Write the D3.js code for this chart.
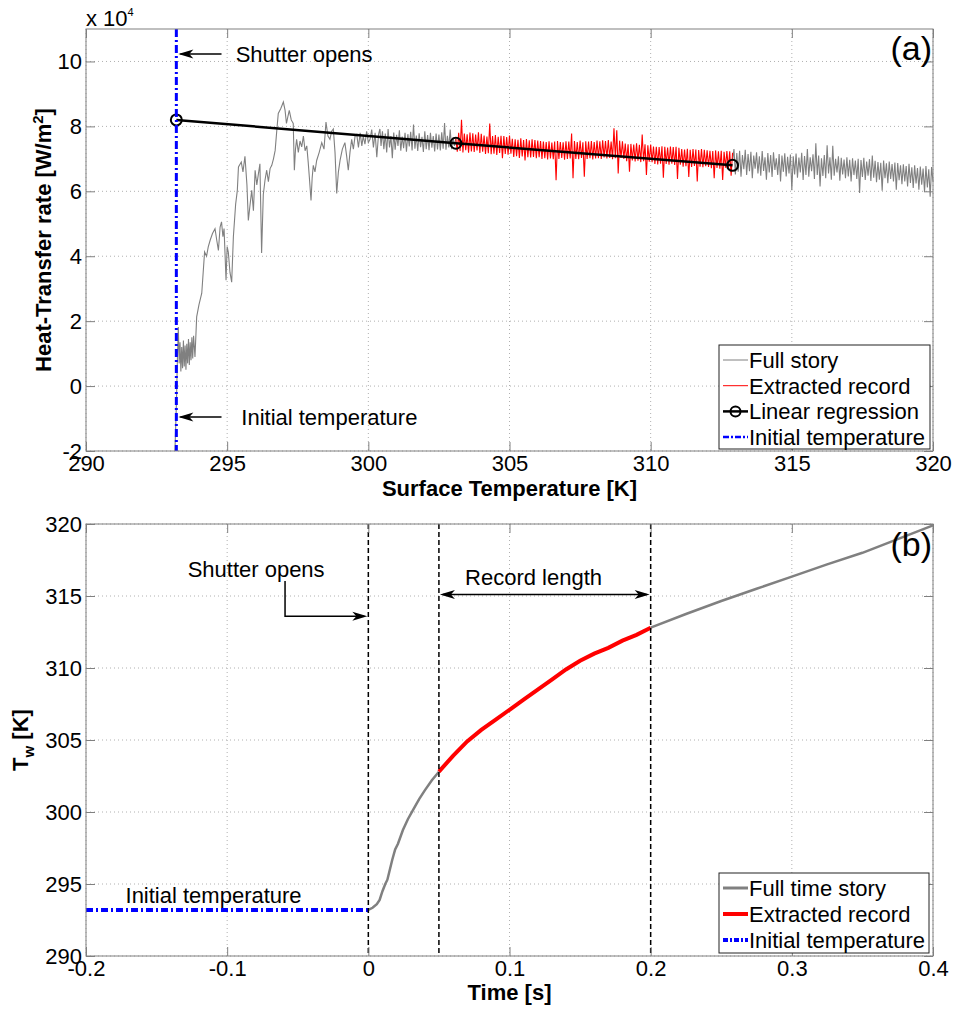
<!DOCTYPE html>
<html>
<head>
<meta charset="utf-8">
<script src="https://cdn.jsdelivr.net/npm/d3@7"></script>
<style>
body { margin: 0; background: #fff; }
text { font-family: "Liberation Sans", Arial, Helvetica, sans-serif; }
</style>
</head>
<body>
<div id="chart"></div>
<script>

// ---------- (a) heat-transfer rate vs surface temperature (values x 10^4 W/m2) ----------
let fullEarly = [[293.15,-2.0],[293.20,-0.6],[293.24,0.9],[293.27,1.82],[293.30,0.7],[293.33,1.35],[293.36,0.45],[293.39,1.2],
	[293.42,0.55],[293.45,1.4],[293.48,0.6],[293.51,1.25],[293.54,0.5],[293.57,1.3],[293.60,0.7],[293.63,1.45],[293.66,0.65],
	[293.69,1.35],[293.72,0.8],[293.75,1.5],[293.78,0.85],[293.81,1.55],[293.86,0.9],[293.92,2.13],[294.00,2.5],[294.10,2.86],
	[294.20,4.13],[294.27,4.0],[294.33,4.29],[294.40,4.5],[294.48,4.7],[294.57,4.85],[294.63,4.5],[294.69,4.18],[294.75,4.9],
	[294.80,5.06],[294.85,4.6],[294.89,4.85],[294.96,3.26],[295.00,4.3],[295.04,4.13],[295.10,3.5],[295.16,3.2],[295.22,4.6],
	[295.30,5.6],[295.36,6.03],[295.40,6.75],[295.50,6.9],[295.56,6.6],[295.63,7.08],[295.70,6.2],[295.75,5.1],[295.80,5.5],
	[295.87,6.03],[295.93,5.4],[295.99,6.65],[296.05,6.2],[296.10,6.5],[296.16,6.85],[296.22,4.1],[296.28,5.9],[296.34,6.34],
	[296.40,6.65],[296.46,6.3],[296.52,6.7],[296.58,6.8],[296.64,7.0],[296.70,7.26],[296.76,7.9],[296.81,8.4],[296.90,8.55],
	[296.99,8.75],[297.05,8.5],[297.10,8.09],[297.15,8.3],[297.20,8.49],[297.27,8.2],[297.34,8.09],[297.38,6.65],[297.42,7.3],
	[297.46,7.6],[297.52,7.2],[297.58,7.55],[297.64,7.37],[297.70,7.7],[297.76,7.25],[297.82,7.4],[297.87,6.9],[297.91,6.44],
	[297.97,5.72],[298.01,6.4],[298.05,6.8],[298.11,6.6],[298.17,6.95],[298.26,7.2],[298.35,7.5],[298.43,7.3],[298.50,8.13],
	[298.57,7.7],[298.64,7.6],[298.70,7.85],[298.76,7.92],[298.82,7.2],[298.88,5.93],[298.94,6.6],[299.00,6.96],[299.08,7.3],
	[299.17,7.5],[299.23,7.1],[299.29,6.65],[299.35,7.2],[299.41,7.6],[299.47,7.3],[299.53,7.7],[299.59,7.75],[299.65,7.35],
	[299.71,7.8],[299.77,7.4],[299.82,7.7],[299.88,7.45],[299.94,7.85],[300.00,7.5],[300.06,7.6],[300.12,7.9],[300.18,7.35],
	[300.24,7.8],[300.30,7.05],[300.36,7.75],[300.41,7.92],[300.45,7.4]];

// sampled every 0.05 K
let midStart = 300.5;
let fullMid = [7.85,7.30,7.78,7.20,7.92,7.35,7.70,7.02,7.81,7.28,7.74,7.40,7.88,7.25,7.69,7.33,7.80,7.22,7.76,7.38,
	7.83,7.26,8.06,7.31,7.72,7.24,7.79,7.36,7.68,7.21,7.85,7.30,7.73,7.27,7.80,7.34,7.70,7.23,7.78,7.29,
	7.75,7.26,7.82,7.31,8.10,7.28,7.71,7.35,7.90,7.30,7.66,7.40,7.62];

let recStart = 303.1;
let extracted = [7.62,7.22,7.80,7.24,8.20,7.20,7.78,7.27,7.76,7.19,7.81,7.23,7.79,7.21,7.75,7.26,7.82,7.18,7.77,7.22,
	7.72,7.15,7.69,7.17,8.09,7.14,7.70,7.16,7.73,7.12,7.68,7.18,7.71,7.02,7.70,7.15,7.67,7.13,7.72,7.16,
	7.62,7.06,7.60,7.08,7.59,7.03,7.63,7.07,7.58,6.95,7.61,7.05,7.57,7.04,7.60,7.06,7.58,7.02,7.56,7.05,
	7.55,7.00,7.53,7.02,7.52,6.98,7.54,7.01,7.50,6.99,7.53,6.34,7.55,7.00,7.52,7.03,7.51,6.97,7.54,7.00,
	7.53,7.01,7.78,6.40,7.55,7.00,7.52,6.99,7.56,7.03,7.51,6.45,7.54,7.00,7.53,7.02,7.55,6.98,7.52,7.01,
	7.56,7.02,7.54,7.00,7.57,7.04,7.55,7.01,7.58,7.03,7.53,6.99,7.94,7.02,7.88,6.55,7.56,7.03,7.54,7.00,
	7.47,6.93,7.45,6.60,7.46,6.95,7.44,6.92,7.48,6.94,7.43,6.90,7.75,6.93,7.45,6.50,7.42,6.91,7.44,6.90,
	7.38,6.84,7.37,6.83,7.36,6.85,7.39,6.42,7.37,6.84,7.35,6.82,7.38,6.85,7.36,6.81,7.37,6.38,7.34,6.82,
	7.30,6.76,7.29,6.77,7.31,6.44,7.28,6.75,7.30,6.78,7.29,6.30,7.27,6.76,7.30,6.74,7.28,6.77,7.26,6.75,
	7.25,6.71,7.24,6.40,7.26,6.72,7.23,6.70,7.25,6.35,7.22,6.73,7.24,6.70,7.23,6.48,7.19];

let lateStart = 312.9;
let fullLate = [6.95,7.30,6.52,7.18,6.60,7.25,6.45,7.12,6.68,7.28,6.50,7.15,6.62,7.22,6.40,7.10,6.70,7.20,6.55,7.08,
	6.48,7.24,6.63,7.05,6.36,7.18,6.58,7.12,6.44,7.20,6.66,7.02,6.50,7.15,6.30,7.10,6.60,7.17,6.46,7.06,
	6.55,7.13,6.03,7.08,6.52,7.16,6.42,7.04,6.58,7.19,6.35,7.09,6.50,7.30,6.45,7.05,6.62,7.14,6.38,7.48,
	6.50,7.10,6.15,7.02,6.47,7.12,6.40,7.42,6.55,7.05,6.36,7.40,6.48,7.00,6.58,7.08,6.33,7.03,6.52,6.98,
	6.40,7.05,6.46,6.97,6.30,7.02,6.50,6.95,6.38,7.00,5.95,6.96,6.44,7.03,6.35,6.92,6.48,6.99,6.32,7.10,
	6.42,6.94,6.28,6.90,6.36,6.88,6.02,6.95,6.40,6.86,6.25,6.92,6.38,6.84,6.30,6.89,6.05,6.87,6.34,6.80,
	6.22,6.83,6.30,6.78,6.15,6.85,6.26,6.74,6.10,6.80,6.24,6.72,6.05,6.76,6.20,6.70,5.98,6.78,6.12,6.68,
	5.83,6.75,6.30];
let sampleStep = 0.05;

let regT = [293.2, 303.1, 312.9];
let regQ = [8.2, 7.48, 6.8];
let initialTemp = 293.2;

let xTicksA = [290, 295, 300, 305, 310, 315, 320];
let yTicksA = [-2, 0, 2, 4, 6, 8, 10];

// ---------- (b) wall temperature vs time ----------
let timeGrayStart = [[0,293.2],[0.003,293.35],[0.006,293.6],[0.008,293.9],[0.010,294.5],[0.012,295.0],[0.0135,295.3],
	[0.015,295.9],[0.017,296.7],[0.019,297.4],[0.021,297.8],[0.0245,298.75],[0.028,299.5],[0.032,300.2],[0.036,300.9],
	[0.040,301.5],[0.045,302.2],[0.05,302.8]];
let timeRed = [[0.05,302.8],[0.06,303.9],[0.07,304.9],[0.08,305.7],[0.09,306.4],[0.10,307.1],[0.11,307.8],[0.12,308.5],
	[0.13,309.2],[0.14,309.9],[0.15,310.5],[0.16,311.0],[0.17,311.4],[0.18,311.9],[0.19,312.3],[0.20,312.8]];
let timeGrayEnd = [[0.20,312.8],[0.225,313.75],[0.25,314.65],[0.275,315.5],[0.30,316.35],[0.325,317.2],
	[0.35,318.0],[0.375,318.95],[0.40,319.9]];

let tShutter = 0, tRecStart = 0.05, tRecEnd = 0.2;
let timeMin = -0.2;

let xTicksB = [-0.2, -0.1, 0, 0.1, 0.2, 0.3, 0.4];
let yTicksB = [290, 295, 300, 305, 310, 315, 320];


// ---------- drawing ----------
let svg = d3.select("#chart").append("svg")
	.attr("width", 960)
	.attr("height", 1009);

let xA = d3.scaleLinear().domain([290, 320]).range([86, 933]);
let yA = d3.scaleLinear().domain([-2, 11]).range([451, 29]);
let xB = d3.scaleLinear().domain([-0.2, 0.4]).range([86, 933]);
let yB = d3.scaleLinear().domain([290, 320]).range([956, 524]);

let gray = "#808080";
let fs = 22;

function drawGrid(g, x, y, xTicks, yTicks) {
	let [x0, x1] = x.range();
	let [y0, y1] = y.range();
	g.append("g").selectAll("line").data(xTicks).join("line")
		.attr("x1", d => x(d)).attr("x2", d => x(d))
		.attr("y1", y1).attr("y2", y0)
		.attr("stroke", "#b0b0b0").attr("stroke-dasharray", "1,3");
	g.append("g").selectAll("line").data(yTicks).join("line")
		.attr("x1", x0).attr("x2", x1)
		.attr("y1", d => y(d)).attr("y2", d => y(d))
		.attr("stroke", "#b0b0b0").attr("stroke-dasharray", "1,3");
}

function styleAxis(sel) {
	sel.select(".domain").remove();
	sel.selectAll(".tick line").attr("stroke", gray);
	sel.selectAll(".tick text")
		.attr("fill", "#000")
		.attr("font-size", fs)
		.attr("font-family", '"Liberation Sans", Arial, sans-serif');
}

function drawAxes(g, x, y, xTicks, yTicks, fmtX, fmtY) {
	let [x0, x1] = x.range();
	let [y0, y1] = y.range();
	g.append("g").attr("transform", `translate(0,${y0})`)
		.call(d3.axisBottom(x).tickValues(xTicks).tickFormat(fmtX).tickSizeInner(-9).tickSizeOuter(0).tickPadding(4))
		.call(styleAxis);
	g.append("g").attr("transform", `translate(0,${y1})`)
		.call(d3.axisTop(x).tickValues(xTicks).tickFormat("").tickSizeInner(-9).tickSizeOuter(0))
		.call(styleAxis);
	g.append("g").attr("transform", `translate(${x0},0)`)
		.call(d3.axisLeft(y).tickValues(yTicks).tickFormat(fmtY).tickSizeInner(-9).tickSizeOuter(0).tickPadding(4))
		.call(styleAxis);
	g.append("g").attr("transform", `translate(${x1},0)`)
		.call(d3.axisRight(y).tickValues(yTicks).tickFormat("").tickSizeInner(-9).tickSizeOuter(0))
		.call(styleAxis);
	g.append("rect")
		.attr("x", x0).attr("y", y1)
		.attr("width", x1 - x0).attr("height", y0 - y1)
		.attr("fill", "none").attr("stroke", gray);
}

// arrow head with a notch, dir = -1 points left, 1 points right
function arrowHead(g, tx, ty, dir) {
	let b = tx - dir * 15, n = tx - dir * 11;
	g.append("path")
		.attr("d", `M${tx},${ty}L${b},${ty - 4.5}L${n},${ty}L${b},${ty + 4.5}Z`)
		.attr("fill", "#000");
}

function label(g, x, y, txt, size, anchor) {
	return g.append("text")
		.attr("x", x).attr("y", y)
		.attr("font-size", size || fs)
		.attr("text-anchor", anchor || "start")
		.attr("fill", "#000")
		.text(txt);
}

function drawLegend(g, x, y, w, h, rowH, items) {
	g.append("rect")
		.attr("x", x).attr("y", y).attr("width", w).attr("height", h)
		.attr("fill", "#fff").attr("stroke", "#222");
	items.forEach((it, i) => {
		let cy = y + 15 + i * rowH;
		g.append("line")
			.attr("x1", x + 4).attr("x2", x + 29)
			.attr("y1", cy).attr("y2", cy)
			.attr("stroke", it.color)
			.attr("stroke-width", it.width)
			.attr("stroke-dasharray", it.dash || null);
		if (it.marker) {
			g.append("circle")
				.attr("cx", x + 16.5).attr("cy", cy).attr("r", 5)
				.attr("fill", "none").attr("stroke", it.color).attr("stroke-width", 2);
		}
		label(g, x + 30, cy + 8, it.label);
	});
}

// ---------- panel (a) ----------
let gA = svg.append("g");
drawGrid(gA, xA, yA, xTicksA, yTicksA);

let lineA = d3.line().x(d => xA(d[0])).y(d => yA(d[1]));

let grayA1 = fullEarly.concat(fullMid.map((v, i) => [midStart + i * sampleStep, v]));
let redA = extracted.map((v, i) => [recStart + i * sampleStep, v]);
let grayA2 = fullLate.map((v, i) => [lateStart + i * sampleStep, v]);

[grayA1, grayA2].forEach(s => {
	gA.append("path").datum(s)
		.attr("d", lineA)
		.attr("fill", "none").attr("stroke", gray).attr("stroke-width", 1.1);
});
gA.append("path").datum(redA)
	.attr("d", lineA)
	.attr("fill", "none").attr("stroke", "#ff0000").attr("stroke-width", 1.1);

let regPts = regT.map((t, i) => [t, regQ[i]]);
gA.append("path").datum(regPts)
	.attr("d", lineA)
	.attr("fill", "none").attr("stroke", "#000").attr("stroke-width", 2.5);
gA.selectAll(".regpt").data(regPts).join("circle")
	.attr("class", "regpt")
	.attr("cx", d => xA(d[0])).attr("cy", d => yA(d[1])).attr("r", 5.5)
	.attr("fill", "none").attr("stroke", "#000").attr("stroke-width", 2);

gA.append("line")
	.attr("x1", xA(initialTemp)).attr("x2", xA(initialTemp))
	.attr("y1", yA(11)).attr("y2", yA(-2))
	.attr("stroke", "#0000ff").attr("stroke-width", 3)
	.attr("stroke-dasharray", "8,3,2,3");

drawAxes(gA, xA, yA, xTicksA, yTicksA, d => String(d), d => String(d));

// exponent label
let expo = label(gA, 86, 26, "x 10");
expo.append("tspan").attr("dy", -10).attr("font-size", 11).text("4");

// annotations
let yShut = yA(10.23);
gA.append("line").attr("x1", xA(294.8)).attr("x2", xA(initialTemp) + 4)
	.attr("y1", yShut).attr("y2", yShut).attr("stroke", "#000").attr("stroke-width", 1.5);
arrowHead(gA, xA(initialTemp) + 2, yShut, -1);
label(gA, xA(295.3), yShut + 8, "Shutter opens");

let yInit = yA(-0.95);
gA.append("line").attr("x1", xA(294.8)).attr("x2", xA(initialTemp) + 4)
	.attr("y1", yInit).attr("y2", yInit).attr("stroke", "#000").attr("stroke-width", 1.5);
arrowHead(gA, xA(initialTemp) + 2, yInit, -1);
label(gA, xA(295.5), yInit + 8, "Initial temperature");

label(gA, 932, 60, "(a)", 34, "end");

// axis titles
label(gA, (86 + 933) / 2, 496, "Surface Temperature [K]", fs, "middle").attr("font-weight", "bold");
let yTitleA = gA.append("text")
	.attr("transform", `translate(51,${(29 + 451) / 2}) rotate(-90)`)
	.attr("text-anchor", "middle").attr("font-size", fs).attr("font-weight", "bold")
	.text("Heat-Transfer rate [W/m");
yTitleA.append("tspan").attr("dy", -8).attr("font-size", 15).text("2");
yTitleA.append("tspan").attr("dy", 8).text("]");

drawLegend(gA, 719, 345, 211, 104, 25.7, [
	{label: "Full story", color: gray, width: 1},
	{label: "Extracted record", color: "#ff0000", width: 1},
	{label: "Linear regression", color: "#000", width: 2.5, marker: true},
	{label: "Initial temperature", color: "#0000ff", width: 2.5, dash: "6,2,2,2"}
]);

// ---------- panel (b) ----------
let gB = svg.append("g");
drawGrid(gB, xB, yB, xTicksB, yTicksB);

let lineB = d3.line().x(d => xB(d[0])).y(d => yB(d[1]));

[timeGrayStart, timeGrayEnd].forEach(s => {
	gB.append("path").datum(s)
		.attr("d", lineB)
		.attr("fill", "none").attr("stroke", gray).attr("stroke-width", 2.5);
});
gB.append("path").datum(timeRed)
	.attr("d", lineB)
	.attr("fill", "none").attr("stroke", "#ff0000").attr("stroke-width", 4);

gB.append("path").datum([[timeMin, initialTemp], [tShutter, initialTemp]])
	.attr("d", lineB)
	.attr("fill", "none").attr("stroke", "#0000ff").attr("stroke-width", 4)
	.attr("stroke-dasharray", "7,3,2,3");

gB.selectAll(".marker").data([tShutter, tRecStart, tRecEnd]).join("line")
	.attr("class", "marker")
	.attr("x1", d => xB(d)).attr("x2", d => xB(d))
	.attr("y1", yB(320)).attr("y2", yB(290))
	.attr("stroke", "#000").attr("stroke-width", 1.5)
	.attr("stroke-dasharray", "5,3");

drawAxes(gB, xB, yB, xTicksB, yTicksB, d => String(+d.toFixed(1)), d => String(d));

// annotations
label(gB, xB(-0.128), yB(316.3), "Shutter opens");
gB.append("path")
	.attr("d", `M${xB(-0.059)},${yB(316.05)}V${yB(313.6)}H${xB(tShutter) - 4}`)
	.attr("fill", "none").attr("stroke", "#000").attr("stroke-width", 1.5);
arrowHead(gB, xB(tShutter) - 1, yB(313.6), 1);

let yRec = yB(315.1);
gB.append("line").attr("x1", xB(tRecStart) + 4).attr("x2", xB(tRecEnd) - 4)
	.attr("y1", yRec).attr("y2", yRec).attr("stroke", "#000").attr("stroke-width", 1.5);
arrowHead(gB, xB(tRecStart) + 1, yRec, -1);
arrowHead(gB, xB(tRecEnd) - 1, yRec, 1);
label(gB, xB(0.0685), yB(315.76), "Record length");

label(gB, xB(-0.172), yB(293.66), "Initial temperature");

label(gB, 932, 556, "(b)", 34, "end");

label(gB, (86 + 933) / 2, 1000, "Time [s]", fs, "middle").attr("font-weight", "bold");
let yTitleB = gB.append("text")
	.attr("transform", `translate(28,${(524 + 956) / 2}) rotate(-90)`)
	.attr("text-anchor", "middle").attr("font-size", fs).attr("font-weight", "bold")
	.text("T");
yTitleB.append("tspan").attr("dy", 6).attr("font-size", 15).text("w");
yTitleB.append("tspan").attr("dy", -6).text(" [K]");

drawLegend(gB, 719, 873, 210, 80, 26, [
	{label: "Full time story", color: gray, width: 3},
	{label: "Extracted record", color: "#ff0000", width: 4},
	{label: "Initial temperature", color: "#0000ff", width: 4, dash: "5,2,2,2"}
]);

</script>
</body>
</html>
